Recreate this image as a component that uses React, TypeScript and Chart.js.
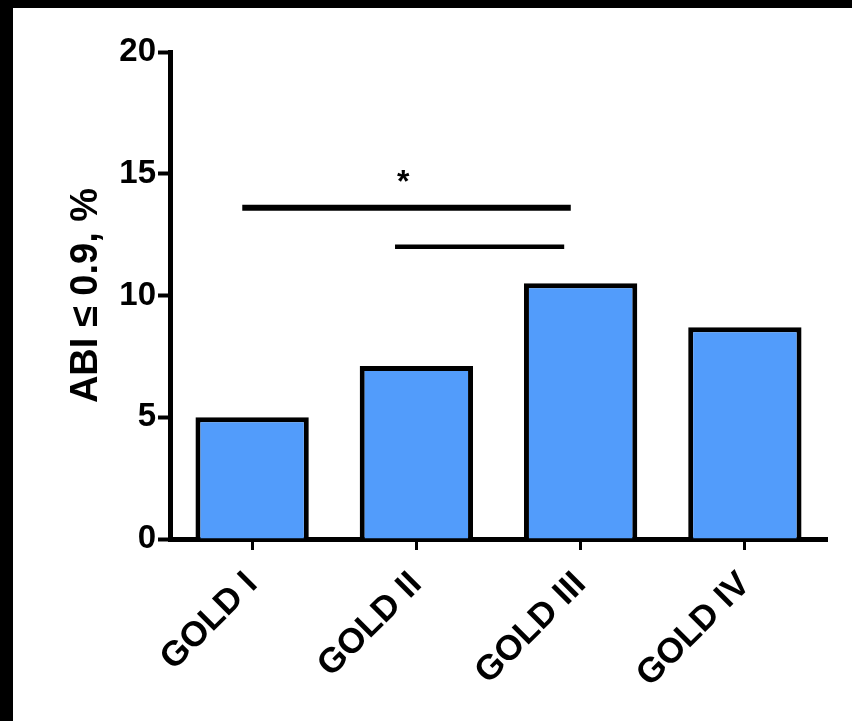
import React, { useEffect, useRef } from "react";
import { Chart, registerables } from "chart.js";

Chart.register(...registerables);

const categories = ["GOLD I", "GOLD II", "GOLD III", "GOLD IV"];
const abiValues = [5.0, 7.1, 10.5, 8.7];
const yTicks = [0, 5, 10, 15, 20];
const yTitle = "ABI \u2264 0.9, %";

// significance brackets: start / end in category-index units, y in data units
const sigLineStartX = [-0.06, 0.87];
const sigLineEndX = [1.94, 1.9];
const sigLineY = [13.6, 12.0];
const sigLineWidth = [6, 4.5];
const sigMarkText = "*";
const sigMarkX = 0.92;
const sigMarkY = 14.25;

const FONT = "'Liberation Sans', Arial, sans-serif";

const sigPlugin = {
  id: "sigPlugin",
  afterDatasetsDraw(chart: any) {
    const { ctx, scales } = chart;
    const xs = scales.x;
    const ys = scales.y;
    ctx.save();
    ctx.strokeStyle = "#000";
    ctx.lineCap = "butt";
    for (let i = 0; i < sigLineY.length; i++) {
      const y = ys.getPixelForValue(sigLineY[i]);
      ctx.lineWidth = sigLineWidth[i];
      ctx.beginPath();
      ctx.moveTo(xs.getPixelForValue(sigLineStartX[i]), y);
      ctx.lineTo(xs.getPixelForValue(sigLineEndX[i]), y);
      ctx.stroke();
    }
    ctx.fillStyle = "#000";
    ctx.font = `bold 32px ${FONT}`;
    ctx.textAlign = "center";
    ctx.textBaseline = "alphabetic";
    ctx.fillText(sigMarkText, xs.getPixelForValue(sigMarkX), ys.getPixelForValue(sigMarkY));
    ctx.restore();
  },
};

export default function App() {
  const ref = useRef<HTMLCanvasElement | null>(null);

  useEffect(() => {
    document.body.style.margin = "0";
    document.body.style.background = "#fff";
    const canvas = ref.current;
    if (!canvas) return;
    const chart = new Chart(canvas, {
      type: "bar",
      data: {
        labels: categories,
        datasets: [
          {
            data: abiValues,
            backgroundColor: "#529CFB",
            borderColor: "#000",
            borderWidth: 5,
            borderSkipped: "bottom",
            categoryPercentage: 1,
            barPercentage: 0.69,
          },
        ],
      },
      options: {
        responsive: false,
        maintainAspectRatio: false,
        animation: false,
        layout: { padding: { left: 0, right: 25, top: 44, bottom: 0 } },
        plugins: {
          legend: { display: false },
          tooltip: { enabled: false },
        },
        scales: {
          x: {
            type: "category",
            offset: true,
            grid: {
              display: true,
              drawOnChartArea: false,
              offset: false,
              drawTicks: true,
              tickLength: 11,
              tickWidth: 3,
              tickColor: "#000",
              color: "#000",
            },
            border: { display: true, color: "#000", width: 5 },
            ticks: {
              color: "#000",
              font: { family: FONT, size: 35, weight: "bold" },
              minRotation: 45,
              maxRotation: 45,
              padding: 14,
            },
            afterFit(scale: any) {
              scale.height = 182;
            },
          },
          y: {
            type: "linear",
            min: 0,
            max: 20,
            afterBuildTicks(scale: any) {
              scale.ticks = yTicks.map((v) => ({ value: v }));
            },
            grid: {
              display: true,
              drawOnChartArea: false,
              drawTicks: true,
              tickLength: 12,
              tickWidth: 4,
              tickColor: "#000",
              color: "#000",
            },
            border: { display: true, color: "#000", width: 5 },
            ticks: {
              color: "#000",
              font: { family: FONT, size: 33, weight: "bold" },
              padding: 2,
            },
            title: {
              display: true,
              text: yTitle,
              color: "#000",
              font: { family: FONT, size: 38, weight: "bold" },
              padding: { top: 51, bottom: 0 },
            },
            afterFit(scale: any) {
              scale.width = 157;
            },
          },
        },
      },
      plugins: [sigPlugin],
    });
    return () => chart.destroy();
  }, []);

  return (
    <div style={{ position: "fixed", left: 0, top: 0, right: 0, bottom: 0, background: "#fff" }}>
      <div style={{ position: "absolute", left: 0, top: 0, right: 0, height: 8, background: "#000" }} />
      <div style={{ position: "absolute", left: 0, top: 0, bottom: 0, width: 13, background: "#000" }} />
      <canvas
        ref={ref}
        width={839}
        height={713}
        style={{ position: "absolute", left: 13, top: 8, display: "block" }}
      />
    </div>
  );
}
